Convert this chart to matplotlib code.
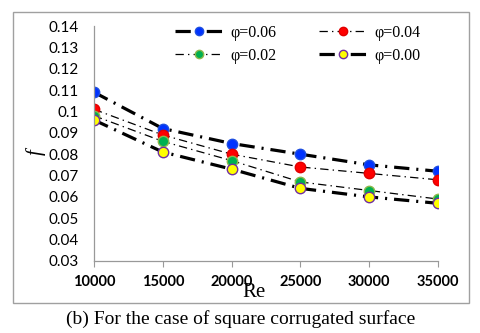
import matplotlib
matplotlib.use("Agg")
import matplotlib.pyplot as plt
from matplotlib.patches import Rectangle

plt.rcParams['lines.scale_dashes'] = False

re_values = [10000, 15000, 20000, 25000, 30000, 35000]
phi_labels = ["φ=0.06", "φ=0.04", "φ=0.02", "φ=0.00"]
f_006 = [0.109, 0.092, 0.085, 0.080, 0.075, 0.072]
f_004 = [0.101, 0.089, 0.080, 0.074, 0.071, 0.068]
f_002 = [0.098, 0.086, 0.077, 0.067, 0.063, 0.059]
f_000 = [0.096, 0.081, 0.073, 0.064, 0.060, 0.057]
y_ticks = [0.03, 0.04, 0.05, 0.06, 0.07, 0.08, 0.09, 0.1, 0.11, 0.12, 0.13, 0.14]
y_tick_labels = ["0.03", "0.04", "0.05", "0.06", "0.07", "0.08", "0.09", "0.1",
                 "0.11", "0.12", "0.13", "0.14"]

series = [f_006, f_004, f_002, f_000]
styles = [
    dict(lw=2.3, dashes=(11, 5, 1.5, 5), mfc="#0033FF", mec="#1F4FE0"),
    dict(lw=0.9, dashes=(6, 3, 1, 3), mfc="#FF0000", mec="#E00000"),
    dict(lw=0.9, dashes=(6, 3, 1, 3), mfc="#00B050", mec="#8DB84A"),
    dict(lw=2.3, dashes=(11, 5, 1.5, 5), mfc="#FFFF00", mec="#7030A0"),
]

fig = plt.figure(figsize=(4.8, 3.33), dpi=100)
ax = fig.add_axes([94/480, 1-261/333, (438-94)/480, (261-26)/333])

lines = []
for vals, lab, st in zip(series, phi_labels, styles):
    ln, = ax.plot(re_values, vals, color="black", lw=st["lw"], dashes=st["dashes"],
                  marker="o", markersize=7.5, markerfacecolor=st["mfc"],
                  markeredgecolor=st["mec"], markeredgewidth=1.0, label=lab,
                  solid_capstyle="butt", dash_capstyle="butt")
    lines.append(ln)

ax.set_xlim(10000, 35000)
ax.set_ylim(0.03, 0.14)
ax.set_xticks(re_values)
ax.set_xticklabels([str(v) for v in re_values], fontfamily="Lato",
                   fontweight="bold", fontsize=10.5)
ax.set_yticks(y_ticks)
ax.set_yticklabels(y_tick_labels, fontfamily="Lato", fontsize=11)
ax.tick_params(axis="y", length=0, pad=11)
ax.tick_params(axis="x", length=4, width=0.8, color="#999999", pad=6, direction="out")

for s in ["top", "right"]:
    ax.spines[s].set_visible(False)
for s in ["left", "bottom"]:
    ax.spines[s].set_color("#999999")
    ax.spines[s].set_linewidth(0.9)

ax.text(-0.168, 0.465, "f", transform=ax.transAxes, rotation=90,
        ha="center", va="center", fontfamily="Liberation Serif",
        fontstyle="italic", fontsize=15)
ax.text(0.465, -0.132, "Re", transform=ax.transAxes, ha="center", va="center",
        fontfamily="Liberation Serif", fontsize=15)

order = [0, 2, 1, 3]
leg = ax.legend([lines[i] for i in order], [phi_labels[i] for i in order],
                ncol=2, loc="upper left", bbox_to_anchor=(0.235, 1.006),
                frameon=False, prop={"family": "Liberation Serif", "size": 11.5},
                handlelength=3.0, handletextpad=0.45, columnspacing=2.7,
                labelspacing=0.45, borderpad=0, borderaxespad=0,
                markerscale=0.8)

fig.patches.append(Rectangle((13/480, 1-303/333), (469-13)/480, (303-12)/333,
                             transform=fig.transFigure, fill=False,
                             edgecolor="#A0A0A0", lw=1.0))

fig.text(241/480, 1-319/333, "(b) For the case of square corrugated surface",
         ha="center", va="center", fontfamily="Liberation Serif", fontsize=14)

fig.savefig("out.png", dpi=100)
